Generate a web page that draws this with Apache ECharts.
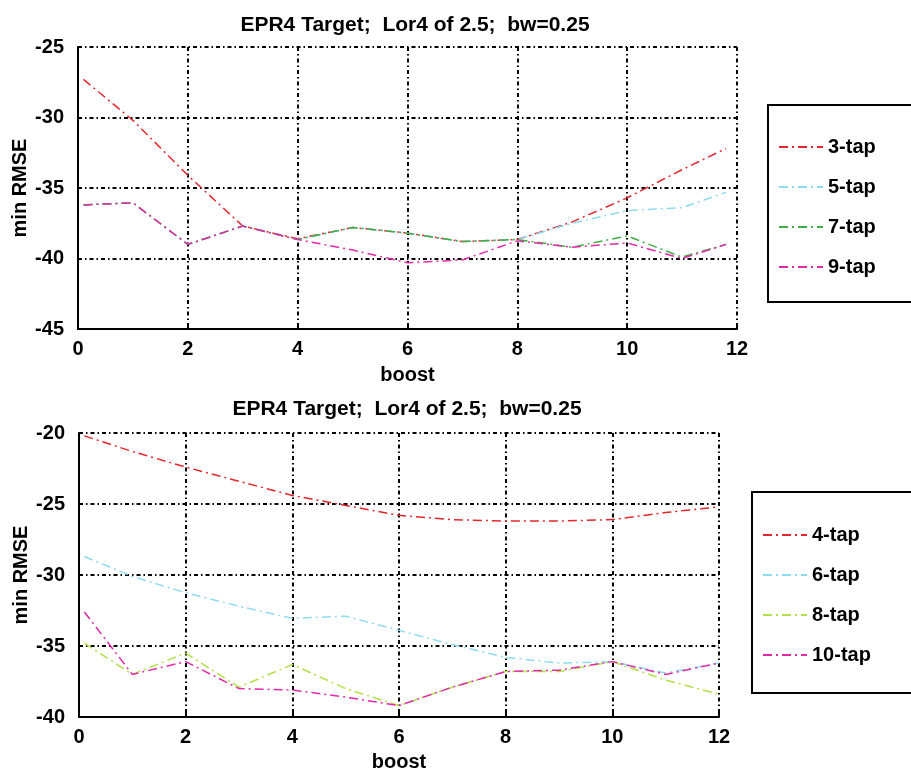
<!DOCTYPE html>
<html><head><meta charset="utf-8">
<script src="https://cdn.jsdelivr.net/npm/echarts@6/dist/echarts.min.js"></script>
<style>html,body{margin:0;padding:0;background:#fff}#c{width:911px;height:774px}</style>
</head><body><div id="c"></div>
<script>
// ---- data ----
const titleText = 'EPR4 Target;  Lor4 of 2.5;  bw=0.25';
const topBoost = [0.1, 1, 2, 3, 4, 5, 6, 7, 8, 9, 10, 11, 11.8];
const topNames = ['3-tap', '5-tap', '7-tap', '9-tap'];
const tap3 = [-27.3, -30.2, -34.1, -37.7, -38.6, -37.8, -38.2, -38.8, -38.65, -37.4, -35.7, -33.7, -32.2];
const tap5 = [-36.2, -36.05, -39.0, -37.7, -38.65, -37.8, -38.2, -38.8, -38.65, -37.5, -36.6, -36.4, -35.3];
const tap7 = [-36.2, -36.05, -39.0, -37.7, -38.65, -37.8, -38.2, -38.8, -38.65, -39.2, -38.4, -39.9, -39.0];
const tap9 = [-36.2, -36.05, -39.0, -37.7, -38.65, -39.4, -40.3, -40.1, -38.75, -39.2, -38.9, -40.0, -39.0];

const botBoost = [0.1, 1, 2, 3, 4, 5, 6, 7, 8, 9, 10, 11, 12];
const botNames = ['4-tap', '6-tap', '8-tap', '10-tap'];
const tap4 = [-20.2, -21.3, -22.4, -23.4, -24.4, -25.1, -25.8, -26.1, -26.2, -26.2, -26.1, -25.6, -25.2];
const tap6 = [-28.7, -30.1, -31.25, -32.2, -33.05, -32.9, -33.9, -34.9, -35.8, -36.2, -36.1, -36.9, -36.2];
const tap8 = [-34.8, -37.0, -35.5, -37.9, -36.3, -38.0, -39.2, -37.9, -36.8, -36.8, -36.1, -37.4, -38.4];
const tap10 = [-32.6, -37.0, -36.1, -38.0, -38.1, -38.6, -39.2, -37.9, -36.8, -36.7, -36.1, -37.0, -36.2];

const xTicks = [0, 2, 4, 6, 8, 10, 12];
const topY = {min: -45, max: -25, interval: 5};
const botY = {min: -40, max: -20, interval: 5};

const topColors = ['#e3262c', '#8fdcf0', '#3fae45', '#e22aa8'];
const botColors = ['#e3262c', '#8fdcf0', '#b2e046', '#e22aa8'];

// ---- build ----
const FONT = 'Liberation Sans, Arial, sans-serif';
const FS = 20;
const zip = (xs, ys) => xs.map((x, i) => [x, ys[i]]);
const dash = [9, 4, 2, 4];
const gridDash = [4, 3, 1.5, 3];
const txt = (size) => ({fontFamily: FONT, fontWeight: 'bold', fontSize: size, color: '#000'});

function mkSeries(name, xs, ys, color, idx) {
  return {
    name, type: 'line', xAxisIndex: idx, yAxisIndex: idx,
    data: zip(xs, ys), symbol: 'none', showSymbol: false, smooth: false,
    lineStyle: {color, width: 1.5, type: dash}, itemStyle: {color},
    animation: false
  };
}
function mkX(idx, gap) {
  return {
    type: 'value', gridIndex: idx, min: 0, max: 12, interval: 2,
    name: 'boost', nameLocation: 'middle', nameGap: gap, nameMoveOverlap: false,
    nameTextStyle: txt(FS),
    axisLine: {show: true, onZero: false, lineStyle: {color: '#000', width: 2}},
    axisTick: {show: true, inside: true, length: 6, lineStyle: {color: '#000', width: 2}},
    axisLabel: Object.assign(txt(FS), {margin: 10,
      formatter: v => xTicks.includes(v) ? String(v) : ''}),
    splitLine: {show: true, lineStyle: {color: '#000', width: 2, type: gridDash}}
  };
}
function mkY(idx, r) {
  return {
    type: 'value', gridIndex: idx, min: r.min, max: r.max, interval: r.interval,
    name: 'min RMSE', nameLocation: 'middle', nameGap: 48, nameRotate: 90, nameMoveOverlap: false,
    nameTextStyle: txt(FS),
    axisLine: {show: true, onZero: false, lineStyle: {color: '#000', width: 2}},
    axisTick: {show: false},
    axisLabel: Object.assign(txt(FS), {margin: 14}),
    splitLine: {show: true, lineStyle: {color: '#000', width: 2, type: gridDash}}
  };
}
function mkLegend(names, left, top, padTop, padBottom, gap) {
  return {
    show: true,
    data: names, orient: 'vertical', left: left, top: top,
    itemWidth: 44, itemHeight: 14, itemGap: gap,
    padding: [padTop, 200, padBottom, 10],
    borderColor: '#000', borderWidth: 2,
    itemStyle: {opacity: 0},
    textStyle: txt(FS)
  };
}

const chart = echarts.init(document.getElementById('c'), null, {renderer: 'canvas'});
chart.setOption({
  animation: false,
  backgroundColor: '#fff',
  title: [
    {text: titleText, left: 410, top: 10, textAlign: 'center', textStyle: txt(21)},
    {text: titleText, left: 402, top: 394, textAlign: 'center', textStyle: txt(21)}
  ],
  grid: [
    {left: 78, right: 174, top: 47, bottom: 445, containLabel: false, outerBoundsMode: 'none'},
    {left: 79, right: 192, top: 433, bottom: 57, containLabel: false, outerBoundsMode: 'none'}
  ],
  xAxis: [mkX(0, 36), mkX(1, 35)],
  yAxis: [mkY(0, topY), mkY(1, botY)],
  legend: [
    mkLegend(topNames, 768, 105, 32, 25, 20),
    mkLegend(botNames, 752, 492, 33, 28, 20)
  ],
  series: [
    mkSeries(topNames[0], topBoost, tap3, topColors[0], 0),
    mkSeries(topNames[1], topBoost, tap5, topColors[1], 0),
    mkSeries(topNames[2], topBoost, tap7, topColors[2], 0),
    mkSeries(topNames[3], topBoost, tap9, topColors[3], 0),
    mkSeries(botNames[0], botBoost, tap4, botColors[0], 1),
    mkSeries(botNames[1], botBoost, tap6, botColors[1], 1),
    mkSeries(botNames[2], botBoost, tap8, botColors[2], 1),
    mkSeries(botNames[3], botBoost, tap10, botColors[3], 1)
  ]
});
</script></body></html>
